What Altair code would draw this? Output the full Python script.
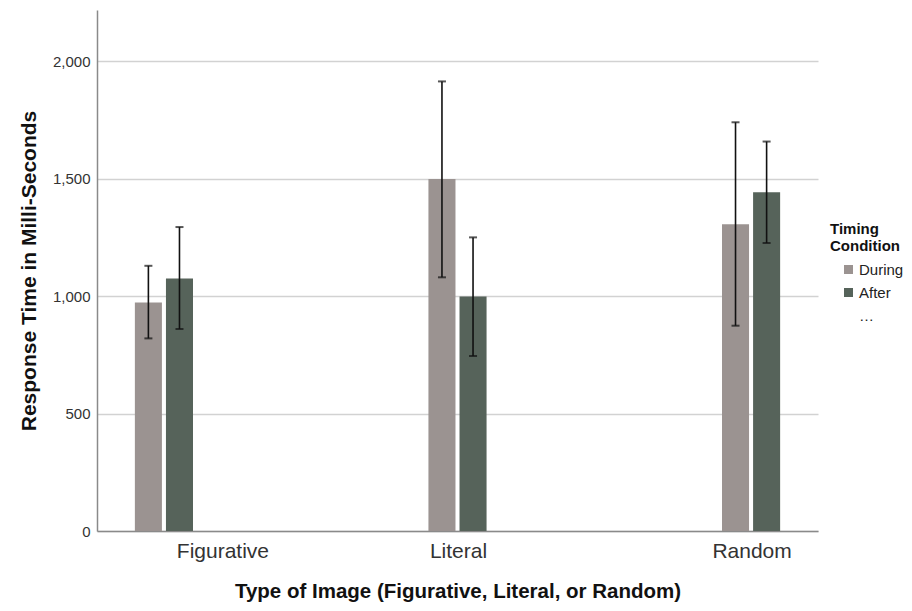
import altair as alt
import pandas as pd

categories = ["Figurative", "Literal", "Random"]
conditions = ["During", "After"]
mean_during = [973, 1499, 1306]
mean_after = [1075, 998, 1442]
low_during = [820, 1080, 874]
high_during = [1129, 1914, 1740]
low_after = [860, 745, 1226]
high_after = [1294, 1250, 1658]

rows = []
for i, c in enumerate(categories):
    rows.append(dict(type=c, cond="During", mean=mean_during[i], low=low_during[i], high=high_during[i]))
    rows.append(dict(type=c, cond="After", mean=mean_after[i], low=low_after[i], high=high_after[i]))
df = pd.DataFrame(rows)

FONT = "Liberation Sans"
C_DURING = "#9b9391"
C_AFTER = "#56635a"

x_enc = alt.X(
    "type:N",
    scale=alt.Scale(domain=categories, paddingInner=0.802, paddingOuter=0.129),
    axis=alt.Axis(
        title="Type of Image (Figurative, Literal, or Random)",
        labelAngle=0,
        ticks=False,
        labelFontSize=21,
        labelColor="#333333",
        labelPadding=9,
        labelOffset={"condition": {"test": "datum.value === 'Figurative'", "value": 59}, "value": 1},
        domainColor="#8a8a8a",
        domainWidth=1.5,
        titleFontSize=20.5,
        titleFontWeight="bold",
        titleColor="#111111",
        titlePadding=20,
        grid=False,
    ),
)
xoff = alt.XOffset("cond:N", scale=alt.Scale(domain=conditions, paddingInner=0.13))

base = alt.Chart(df).encode(x=x_enc, xOffset=xoff)

bars = base.mark_bar().encode(
    y=alt.Y(
        "mean:Q",
        scale=alt.Scale(domain=[0, 2218], nice=False),
        axis=alt.Axis(
            title="Response Time in Milli-Seconds",
            values=[0, 500, 1000, 1500, 2000],
            format=",.0f",
            ticks=False,
            labelFontSize=15,
            labelColor="#333333",
            labelPadding=7,
            domainColor="#8a8a8a",
            domainWidth=1.5,
            gridColor="#d2d2d2",
            gridWidth=1.5,
            titleFontSize=21,
            titleFontWeight="bold",
            titleColor="#111111",
            titlePadding=13,
        ),
    ),
    color=alt.Color(
        "cond:N",
        scale=alt.Scale(domain=conditions + ["\u2026"], range=[C_DURING, C_AFTER, "rgba(0,0,0,0)"]),
        legend=alt.Legend(
            title=["Timing", "Condition"],
            orient="none",
            legendX=733,
            legendY=212,
            titleFontSize=15,
            titleFontWeight="bold",
            titleColor="#111111",
            labelFontSize=15,
            labelColor="#222222",
            labelOffset=3,
            labelLimit=200,
            symbolType="square",
            symbolSize=81,
            symbolStrokeWidth=0,
            symbolOffset=11,
            rowPadding=7,
            titlePadding=8,
        ),
    ),
)

rules = base.mark_rule(color="#111111", strokeWidth=1.6).encode(
    y="low:Q", y2="high:Q"
)
cap_lo = base.mark_tick(color="#111111", size=8, thickness=2).encode(y="low:Q")
cap_hi = base.mark_tick(color="#111111", size=8, thickness=2).encode(y="high:Q")

chart = (
    alt.layer(bars, rules, cap_lo, cap_hi)
    .properties(
        width=721,
        height=521,
        autosize=alt.AutoSizeParams(type="none"),
        padding={"left": 89, "top": 2, "right": 86, "bottom": 72},
    )
    .configure(font=FONT)
    .configure_view(stroke=None)
)

chart.save("out.html", embed_options={"renderer": "svg", "actions": False})
